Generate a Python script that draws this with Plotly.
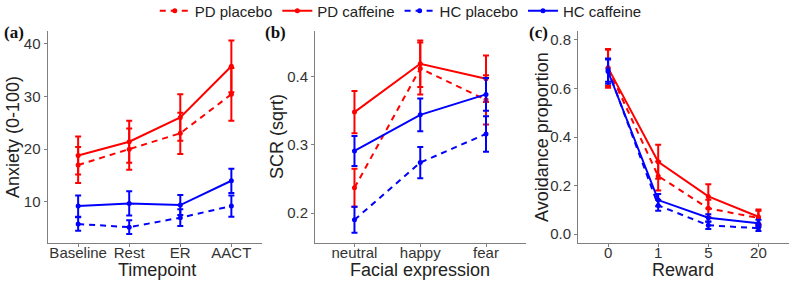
import plotly.graph_objects as go

# ---- data ----
series_names = ["PD placebo", "PD caffeine", "HC placebo", "HC caffeine"]
series_colors = ["#FF0000", "#FF0000", "#0000FF", "#0000FF"]
series_dash = ["6px,5px", "solid", "6px,5px", "solid"]

timepoints = ["Baseline", "Rest", "ER", "AACT"]
anx_pd_placebo = [17.0, 20.0, 23.0, 30.4]
anx_pd_placebo_err = [3.4, 3.9, 3.9, 5.0]
anx_pd_caffeine = [18.8, 21.4, 26.0, 35.7]
anx_pd_caffeine_err = [3.6, 4.0, 4.4, 4.9]
anx_hc_placebo = [5.8, 5.2, 7.0, 9.2]
anx_hc_placebo_err = [1.3, 1.3, 1.6, 2.0]
anx_hc_caffeine = [9.2, 9.7, 9.4, 14.0]
anx_hc_caffeine_err = [2.0, 2.3, 1.9, 2.3]

expressions = ["neutral", "happy", "fear"]
scr_pd_placebo = [0.237, 0.412, 0.366]
scr_pd_placebo_err = [0.028, 0.038, 0.036]
scr_pd_caffeine = [0.348, 0.419, 0.397]
scr_pd_caffeine_err = [0.031, 0.034, 0.034]
scr_hc_placebo = [0.190, 0.274, 0.316]
scr_hc_placebo_err = [0.019, 0.023, 0.026]
scr_hc_caffeine = [0.291, 0.344, 0.374]
scr_hc_caffeine_err = [0.022, 0.024, 0.024]

rewards = ["0", "1", "5", "20"]
avd_pd_placebo = [0.683, 0.239, 0.106, 0.066]
avd_pd_placebo_err = [0.080, 0.060, 0.035, 0.030]
avd_pd_caffeine = [0.685, 0.298, 0.155, 0.071]
avd_pd_caffeine_err = [0.075, 0.070, 0.050, 0.030]
avd_hc_placebo = [0.676, 0.118, 0.036, 0.024]
avd_hc_placebo_err = [0.048, 0.022, 0.015, 0.012]
avd_hc_caffeine = [0.670, 0.140, 0.067, 0.044]
avd_hc_caffeine_err = [0.050, 0.025, 0.015, 0.015]

panels = [
    (timepoints, [anx_pd_placebo, anx_pd_caffeine, anx_hc_placebo, anx_hc_caffeine],
     [anx_pd_placebo_err, anx_pd_caffeine_err, anx_hc_placebo_err, anx_hc_caffeine_err], "x", "y"),
    (expressions, [scr_pd_placebo, scr_pd_caffeine, scr_hc_placebo, scr_hc_caffeine],
     [scr_pd_placebo_err, scr_pd_caffeine_err, scr_hc_placebo_err, scr_hc_caffeine_err], "x2", "y2"),
    (rewards, [avd_pd_placebo, avd_pd_caffeine, avd_hc_placebo, avd_hc_caffeine],
     [avd_pd_placebo_err, avd_pd_caffeine_err, avd_hc_placebo_err, avd_hc_caffeine_err], "x3", "y3"),
]

W, H = 792, 283
fig = go.Figure()
for pi, (cats, vals, errs, xa, ya) in enumerate(panels):
    for si in range(4):
        fig.add_trace(go.Scatter(
            x=cats, y=vals[si], xaxis=xa, yaxis=ya,
            mode="lines+markers", name=series_names[si],
            legendgroup=series_names[si], showlegend=(pi == 0),
            line=dict(color=series_colors[si], width=2, dash=series_dash[si]),
            marker=dict(color=series_colors[si], size=5),
            error_y=dict(type="data", array=errs[si], color=series_colors[si],
                         thickness=2, width=3),
        ))

def px_x(p):
    return p / W

def px_y(p):
    return 1 - p / H

axis_common = dict(showline=True, linecolor="#7f7f7f", linewidth=1, ticks="outside",
                   ticklen=3, tickcolor="#7f7f7f", showgrid=False, zeroline=False,
                   tickfont=dict(family="Liberation Sans, Arial", size=15, color="#333333"))
xaxis_extra = dict(ticklabelstandoff=-7)
ydom = [px_y(243), px_y(31)]

fig.update_layout(
    width=W, height=H, margin=dict(l=0, r=0, t=0, b=0, autoexpand=False),
    paper_bgcolor="white", plot_bgcolor="white",
    font=dict(family="Liberation Sans, Arial", color="#222222"),
    legend=dict(orientation="h", x=0.506, xanchor="center", y=1.019, yanchor="top",
                font=dict(size=15, color="#222222"), itemwidth=30,
                tracegroupgap=0, bgcolor="rgba(0,0,0,0)"),
    xaxis=dict(domain=[px_x(47.5), px_x(262)], anchor="y", type="category",
               range=[-0.6, 3.6], **axis_common, **xaxis_extra),
    yaxis=dict(domain=ydom, anchor="x", range=[2.2, 42.4], tickvals=[10, 20, 30, 40],
               **axis_common),
    xaxis2=dict(domain=[px_x(315), px_x(525.5)], anchor="y2", type="category",
                range=[-0.6, 2.6], **axis_common, **xaxis_extra),
    yaxis2=dict(domain=ydom, anchor="x2", range=[0.156, 0.467], tickvals=[0.2, 0.3, 0.4],
                tickformat=".1f", **axis_common),
    xaxis3=dict(domain=[px_x(578), px_x(788.5)], anchor="y3", type="category",
                range=[-0.6, 3.6], **axis_common, **xaxis_extra),
    yaxis3=dict(domain=ydom, anchor="x3", range=[-0.037, 0.837],
                tickvals=[0.0, 0.2, 0.4, 0.6, 0.8], tickformat=".1f", **axis_common),
)

title_font = dict(family="Liberation Sans, Arial", size=18, color="#222222")
label_font = dict(family="Liberation Serif, Times New Roman", size=17, color="#111111")
annos = [
    ("<b>(a)</b>", 2, 33, 0, "left", label_font),
    ("<b>(b)</b>", 263, 33, 0, "left", label_font),
    ("<b>(c)</b>", 527, 33, 0, "left", label_font),
    ("Timepoint", 157, 270, 0, "center", title_font),
    ("Facial expression", 420, 270, 0, "center", title_font),
    ("Reward", 683, 270, 0, "center", title_font),
    ("Anxiety (0-100)", 13, 137, -90, "center", title_font),
    ("SCR (sqrt)", 277, 137, -90, "center", title_font),
    ("Avoidance proportion", 542, 137, -90, "center", title_font),
]
for text, x, y, ang, anchor, f in annos:
    fig.add_annotation(text=text, x=px_x(x), y=px_y(y), xref="paper", yref="paper",
                       xanchor=anchor, yanchor="middle", showarrow=False,
                       textangle=ang, font=f)

fig.write_html("out.html")
